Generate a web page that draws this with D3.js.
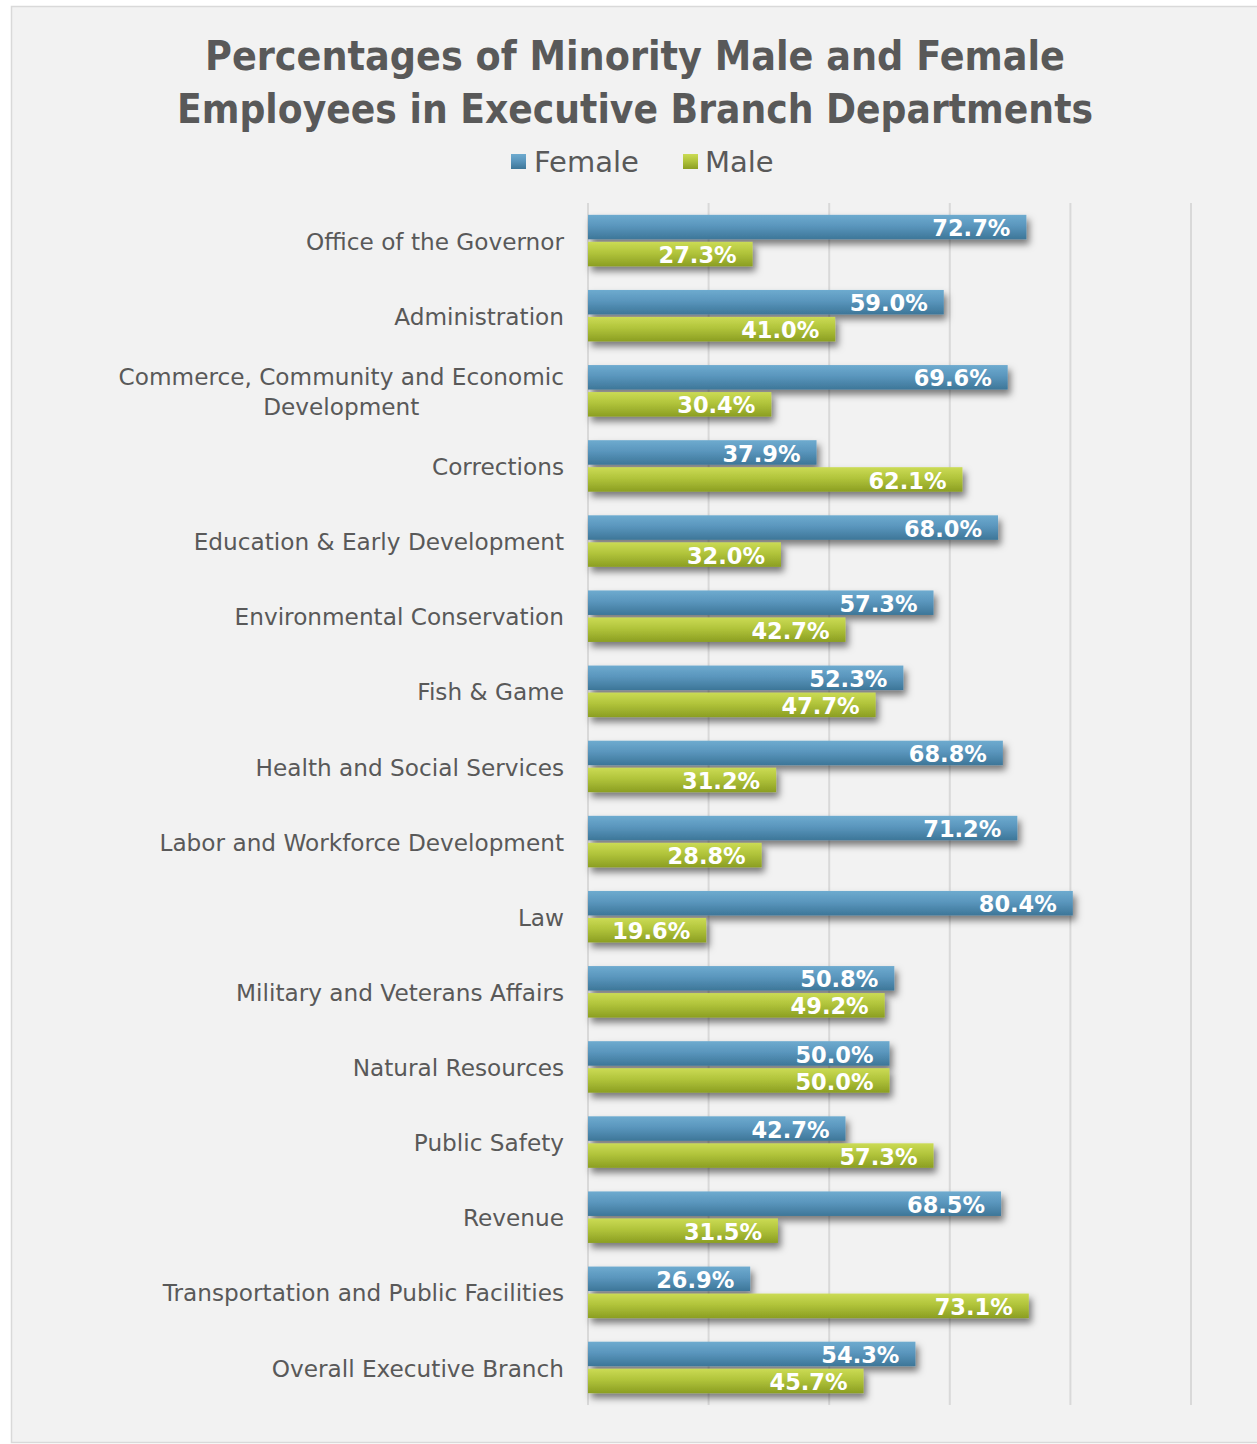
<!DOCTYPE html>
<html>
<head>
<meta charset="utf-8">
<script src="https://cdn.jsdelivr.net/npm/d3@7"></script>
<style>
  html, body { margin: 0; padding: 0; background: #ffffff; }
  svg { display: block; }
  text { font-family: "Century Gothic", "DejaVu Sans", sans-serif; }
</style>
</head>
<body>
<svg id="chart" width="1257" height="1444"></svg>
<script>
// Departments, top to bottom
const departments = [
  "Office of the Governor",
  "Administration",
  "Commerce, Community and Economic|Development",
  "Corrections",
  "Education & Early Development",
  "Environmental Conservation",
  "Fish & Game",
  "Health and Social Services",
  "Labor and Workforce Development",
  "Law",
  "Military and Veterans Affairs",
  "Natural Resources",
  "Public Safety",
  "Revenue",
  "Transportation and Public Facilities",
  "Overall Executive Branch"
];
// Percent of minority employees who are female / male
const femaleValues = [72.7, 59.0, 69.6, 37.9, 68.0, 57.3, 52.3, 68.8, 71.2, 80.4, 50.8, 50.0, 42.7, 68.5, 26.9, 54.3];
const maleValues   = [27.3, 41.0, 30.4, 62.1, 32.0, 42.7, 47.7, 31.2, 28.8, 19.6, 49.2, 50.0, 57.3, 31.5, 73.1, 45.7];
const seriesNames = ["Female", "Male"];
const gridTicks = [0, 20, 40, 60, 80, 100];
const titleLines = ["Percentages of Minority Male and Female", "Employees in Executive Branch Departments"];

const svg = d3.select("#chart");
const defs = svg.append("defs");

// Bar gradients
const grads = [
  { id: "gradFemale", stops: ["#6eabcf", "#5a96bd", "#3d7698"] },
  { id: "gradMale",   stops: ["#cbdb55", "#b1c43b", "#8b9e22"] }
];
grads.forEach(g => {
  const lg = defs.append("linearGradient").attr("id", g.id)
    .attr("x1", 0).attr("y1", 0).attr("x2", 0).attr("y2", 1);
  lg.append("stop").attr("offset", "0%").attr("stop-color", g.stops[0]);
  lg.append("stop").attr("offset", "45%").attr("stop-color", g.stops[1]);
  lg.append("stop").attr("offset", "100%").attr("stop-color", g.stops[2]);
});
const shadow = defs.append("filter").attr("id", "barShadow")
  .attr("x", "-5%").attr("y", "-40%").attr("width", "115%").attr("height", "230%");
shadow.append("feDropShadow").attr("dx", 3).attr("dy", 5).attr("stdDeviation", 3.5)
  .attr("flood-color", "#000").attr("flood-opacity", 0.5);

// Chart area background
svg.append("rect").attr("x", 11.5).attr("y", 6.5).attr("width", 1260).attr("height", 1436)
  .attr("fill", "#f2f2f2").attr("stroke", "#d9d9d9").attr("stroke-width", 1.5);

// Title (each line fitted to its measured width)
const titleWidths = [860, 916];
svg.append("g").selectAll("text").data(titleLines).join("text")
  .attr("x", 635).attr("y", (d, i) => 70 + i * 53)
  .attr("text-anchor", "middle")
  .attr("font-size", 41).attr("font-weight", "bold").attr("fill", "#595959")
  .attr("textLength", (d, i) => titleWidths[i]).attr("lengthAdjust", "spacingAndGlyphs")
  .text(d => d);

// Scales
const x = d3.scaleLinear().domain([0, 100]).range([588, 1191]);
const y = d3.scaleBand().domain(departments).range([203, 1405]).paddingInner(0).paddingOuter(0);
const barH = 24.5, barGap = 2.5;

// Vertical gridlines
svg.append("g").selectAll("line").data(gridTicks).join("line")
  .attr("x1", d => x(d)).attr("x2", d => x(d))
  .attr("y1", 203).attr("y2", 1405)
  .attr("stroke", "#d9d9d9").attr("stroke-width", 2);

// Legend
const legendItems = [{ x: 511, tx: 534 }, { x: 683, tx: 705 }];
const lg = svg.append("g");
seriesNames.forEach((name, i) => {
  lg.append("rect").attr("x", legendItems[i].x).attr("y", 154).attr("width", 15).attr("height", 15)
    .attr("fill", `url(#${grads[i].id})`);
  lg.append("text").attr("x", legendItems[i].tx).attr("y", 172)
    .attr("font-size", 29).attr("fill", "#595959").text(name);
});

// Bars
const rows = departments.map((d, i) => ({ name: d, values: [femaleValues[i], maleValues[i]] }));
const barTop = r => y(r.name) + (y.bandwidth() - (2 * barH + barGap)) / 2;
const barsG = svg.append("g");
rows.forEach(r => {
  r.values.forEach((v, j) => {
    barsG.append("rect")
      .attr("x", x(0)).attr("y", barTop(r) + j * (barH + barGap))
      .attr("width", x(v) - x(0)).attr("height", barH)
      .attr("fill", `url(#${grads[j].id})`)
      .attr("filter", "url(#barShadow)");
  });
});
// Value labels on top of all bars
const labelsG = svg.append("g");
rows.forEach(r => {
  r.values.forEach((v, j) => {
    const by = barTop(r) + j * (barH + barGap);
    labelsG.append("text")
      .attr("x", x(v) - 16).attr("y", by + barH / 2 + 1)
      .attr("dy", "0.36em")
      .attr("text-anchor", "end")
      .attr("font-size", 22.5).attr("font-weight", "bold").attr("fill", "#ffffff")
      .text(v.toFixed(1) + "%");
  });
});

// Category labels, right aligned, multi-line blocks centred within themselves
const catG = svg.append("g");
rows.forEach(r => {
  const lines = r.name.split("|");
  const cy = y(r.name) + y.bandwidth() / 2 + 1;
  const lh = 30;
  const t = catG.append("text").attr("font-size", 23.2).attr("fill", "#595959");
  lines.forEach((ln, k) => {
    t.append("tspan").attr("y", cy + (k - (lines.length - 1) / 2) * lh).attr("dy", "0.35em").text(ln);
  });
  if (lines.length === 1) {
    t.attr("text-anchor", "end").selectAll("tspan").attr("x", 564);
  } else {
    const w = d3.max(t.selectAll("tspan").nodes(), n => n.getComputedTextLength());
    t.attr("text-anchor", "middle").selectAll("tspan").attr("x", 564 - w / 2);
  }
});
</script>
</body>
</html>
